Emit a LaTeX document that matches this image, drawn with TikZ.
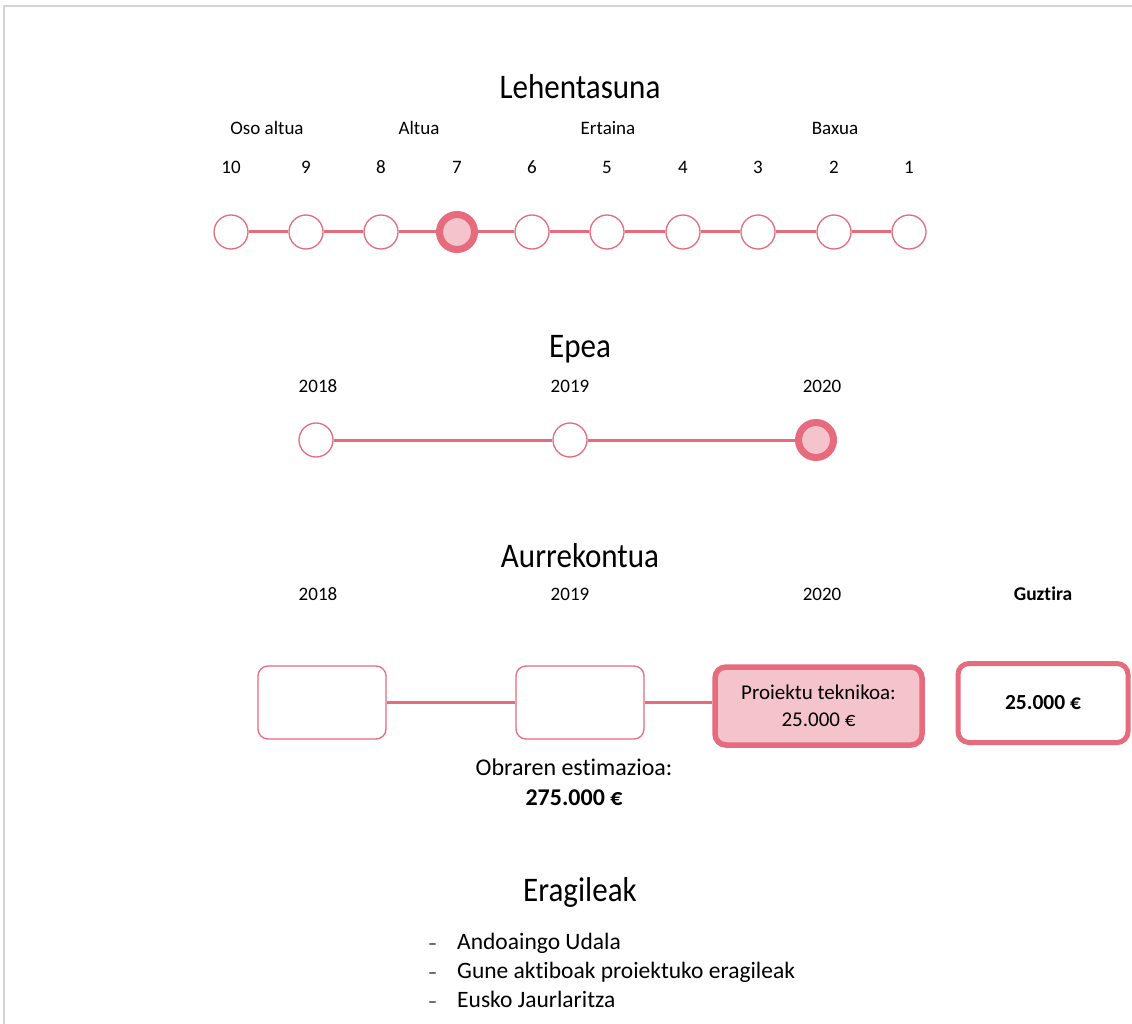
\documentclass[tikz,border=0pt]{standalone}
\usepackage{fontspec}
\setmainfont{Carlito}[Ligatures=NoCommon]
\newfontfamily\titlefont[FakeStretch=0.9,Ligatures=NoCommon]{Carlito}
\definecolor{pinkline}{HTML}{E66B7D}
\definecolor{pinkfill}{HTML}{F4C3CB}
\definecolor{framegray}{HTML}{D4D4D4}
\begin{document}
\begin{tikzpicture}[x=1pt,y=-1pt,
  ttl/.style={font=\titlefont\fontsize{34.5}{38}\selectfont, inner sep=0pt},
  lbl/.style={font=\fontsize{19}{22}\selectfont, inner sep=0pt},
  dot/.style={circle, draw=pinkline, line width=1.3pt, fill=white, minimum size=34pt, inner sep=0pt},
  seldot/.style={circle, draw=pinkline, line width=7pt, fill=pinkfill, minimum size=35pt, inner sep=0pt},
  conn/.style={draw=pinkline, line width=3pt},
  box/.style={draw=pinkline, line width=1.3pt, fill=white, rounded corners=10pt, minimum width=128pt, minimum height=73pt, inner sep=0pt},
  selbox/.style={draw=pinkline, line width=5.5pt, fill=pinkfill, rounded corners=11pt, inner sep=0pt, align=center, font=\fontsize{21}{27}\selectfont},
  totbox/.style={draw=pinkline, line width=5pt, fill=white, rounded corners=11pt, inner sep=0pt, font=\bfseries\fontsize{21.5}{24}\selectfont},
  item/.style={font=\fontsize{23.5}{26}\selectfont, inner sep=0pt, anchor=base west}
]
\useasboundingbox (0,0) rectangle (1132,1024);
\fill[white] (0,0) rectangle (1132,1024);
\draw[framegray, line width=2pt] (4,1024) -- (4,6) -- (1132,6);

% Lehentasuna
\node[ttl] (t1) at (580,87) {Lehentasuna};
\node[lbl] (c1) at (267,128) {Oso altua};
\node[lbl] (c2) at (419,128) {Altua};
\node[lbl] (c3) at (608,128) {Ertaina};
\node[lbl] (c4) at (835,128) {Baxua};
\foreach \n/\x in {10/231,9/306,8/381,7/457,6/532,5/607,4/683,3/758,2/834,1/909}{
  \node[lbl] (n\n) at (\x,167) {\n};
}
\foreach \n/\x in {10/231,9/306,8/381,6/532,5/607,4/683,3/758,2/834,1/909}{
  \node[dot] (p\n) at (\x,232) {};
}
\node[seldot] (p7) at (457,232) {};
\foreach \a/\b in {10/9,9/8,8/7,7/6,6/5,5/4,4/3,3/2,2/1}{
  \draw[conn] (p\a) -- (p\b);
}

% Epea
\node[ttl] (t2) at (580,349) {Epea};
\node[lbl] (e18) at (318,386) {2018};
\node[lbl] (e19) at (570,386) {2019};
\node[lbl] (e20) at (822,386) {2020};
\node[dot] (q18) at (316,440) {};
\node[dot] (q19) at (570,440) {};
\node[seldot] (q20) at (816,440) {};
\draw[conn] (q18) -- (q19);
\draw[conn] (q19) -- (q20);

% Aurrekontua
\node[ttl] (t3) at (580,556) {Aurrekontua};
\node[lbl] (a18) at (318,594) {2018};
\node[lbl] (a19) at (570,594) {2019};
\node[lbl] (a20) at (822,594) {2020};
\node[lbl, font=\bfseries\fontsize{19.5}{22}\selectfont] (agz) at (1043,594) {Guztira};
\node[box] (b18) at (322,702.5) {};
\node[box] (b19) at (580,702.5) {};
\node[selbox, minimum width=207pt, minimum height=78pt] (b20) at (818.5,706) {Proiektu teknikoa:\\25.000 €};
\node[totbox, minimum width=170pt, minimum height=79pt] (btot) at (1043,703) {25.000 €};
\draw[conn] (b18) -- (b19);
\draw[conn] (b19.east) -- (b20.west |- b19.east);
\node[lbl, font=\fontsize{24}{30}\selectfont, align=center] (obra) at (574,782) {Obraren estimazioa:\\\textbf{275.000 €}};

% Eragileak
\node[ttl] (t4) at (580,892) {Eragileak};
\foreach \i/\y/\t in {1/949/Andoaingo Udala,2/978/Gune aktiboak proiektuko eragileak,3/1007/Eusko Jaurlaritza}{
  \node[item, font=\fontsize{18}{20}\selectfont] (d\i) at (428,\y) {–};
  \node[item] (l\i) at (457,\y) {\t};
}
\end{tikzpicture}
\end{document}
